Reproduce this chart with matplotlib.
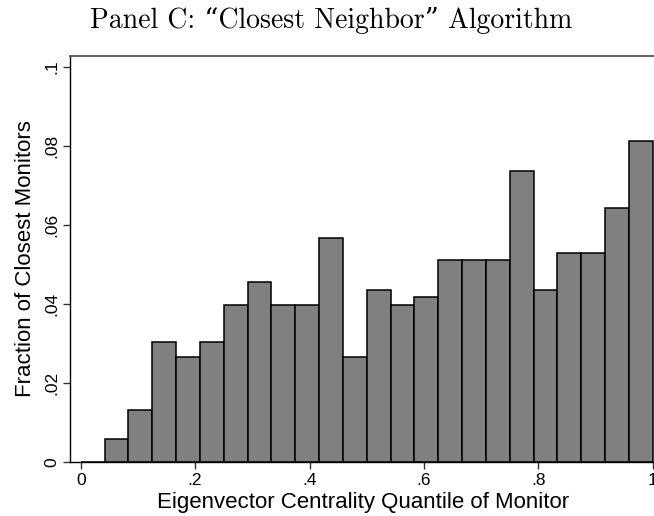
import matplotlib
matplotlib.use("Agg")
import matplotlib.pyplot as plt
import numpy as np

# Data: histogram bins (24 equal bins over [0, 1]) and bar heights (fractions)
bin_edges = np.linspace(0, 1, 25)
fractions = [0.0, 0.0057, 0.0132, 0.0302, 0.0265, 0.0302, 0.0397, 0.0454,
             0.0397, 0.0397, 0.0567, 0.0265, 0.0435, 0.0397, 0.0416, 0.0510,
             0.0510, 0.0510, 0.0737, 0.0435, 0.0529, 0.0529, 0.0643, 0.0813]
xticks = [0, 0.2, 0.4, 0.6, 0.8, 1.0]
xtick_labels = ["0", ".2", ".4", ".6", ".8", "1"]
yticks = [0, 0.02, 0.04, 0.06, 0.08, 0.10]
ytick_labels = ["0", ".02", ".04", ".06", ".08", ".1"]

title = "Panel C: \u201cClosest Neighbor\u201d Algorithm"
xlabel = "Eigenvector Centrality Quantile of Monitor"
ylabel = "Fraction of Closest Monitors"

plt.rcParams['font.family'] = ['Liberation Sans', 'DejaVu Sans']

fig = plt.figure(figsize=(6.54, 5.16), dpi=100)
ax = fig.add_axes([70/654, 1 - 461.7/516, 1 - 70/654 + 0.002, (461.7 - 56)/516])

widths = np.diff(bin_edges)
ax.bar(bin_edges[:-1], fractions, width=widths, align='edge',
       color='#808080', edgecolor='black', linewidth=1.1)

ax.set_xlim(-0.0187, 1.0045)
ax.set_ylim(0, 0.1027)

ax.set_xticks(xticks)
ax.set_xticklabels(xtick_labels, fontsize=12.5)
ax.set_yticks(yticks)
ax.set_yticklabels(ytick_labels, fontsize=12.5, rotation=90, va='center')
ax.tick_params(axis='both', direction='out', length=5, width=1, color='#333333', pad=3)

ax.spines['right'].set_visible(False)
ax.spines['top'].set_color('#555555')
ax.spines['top'].set_linewidth(1.3)
for s in ['left', 'bottom']:
    ax.spines[s].set_color('black')
    ax.spines[s].set_linewidth(1.0)

ax.set_xlabel(xlabel, fontsize=16, labelpad=3)
ax.set_ylabel(ylabel, fontsize=16, labelpad=6)

fig.text(0.506, 1 - 21/516, title, ha='center', va='center', fontsize=20,
         family=['cmr10', 'DejaVu Serif'])

fig.savefig("out.png", dpi=100)
